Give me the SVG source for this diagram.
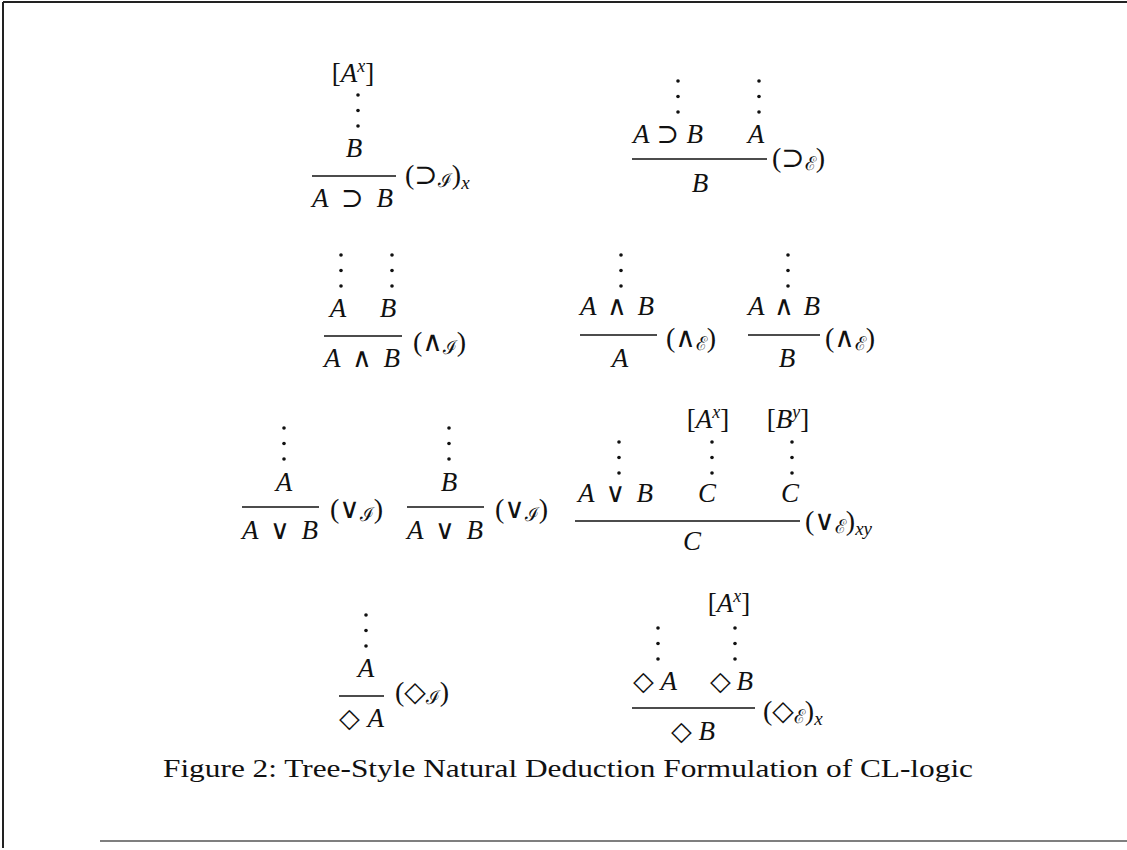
<svg xmlns="http://www.w3.org/2000/svg" width="1127" height="850" viewBox="0 0 1127 850">
<style>
text{font-family:"Liberation Serif","DejaVu Serif",serif;font-size:27px;fill:#111;}
.f{font-style:italic;}
.u{font-style:normal;}
.lab{font-size:28px;}
.cal{font-family:"DejaVu Serif","Liberation Serif",serif;font-style:normal;font-size:19px;}
.sup{font-size:18px;font-style:italic;}
.sub{font-size:19px;font-style:italic;}
.bar{stroke:#111;stroke-width:1.4;fill:none;}
.dot{fill:#111;}
.frame{stroke:#222;stroke-width:2;fill:none;}
.cap{font-size:26px;}
</style>
<defs>
<g id="vd"><circle class="dot" cx="0" cy="0" r="1.8"/><circle class="dot" cx="0" cy="15.5" r="1.8"/><circle class="dot" cx="0" cy="31" r="1.8"/></g>
</defs>
<g id="frame">
<line class="frame" x1="3" y1="2" x2="1127" y2="2"/>
<line class="frame" x1="3" y1="2" x2="3" y2="848"/>
<line x1="100" y1="841" x2="1127" y2="841" stroke="#555" stroke-width="1.5"/>
</g>
<g id="connectors">
<use href="#vd" x="358" y="95"/>
<use href="#vd" x="678" y="81"/>
<use href="#vd" x="759" y="81"/>
<use href="#vd" x="341" y="255"/>
<use href="#vd" x="392" y="255"/>
<use href="#vd" x="621" y="255"/>
<use href="#vd" x="788" y="255"/>
<use href="#vd" x="284" y="428"/>
<use href="#vd" x="449" y="428"/>
<use href="#vd" x="619" y="442"/>
<use href="#vd" x="712" y="442"/>
<use href="#vd" x="792" y="442"/>
<use href="#vd" x="366" y="615"/>
<use href="#vd" x="658" y="628"/>
<use href="#vd" x="735" y="628"/>
</g>
<g id="impI">
<text x="353" y="82" text-anchor="middle"><tspan class="u">[</tspan><tspan class="f">A</tspan><tspan class="sup" dy="-10">x</tspan><tspan class="u" dy="10">]</tspan></text>
<text class="f" x="354" y="157" text-anchor="middle">B</text>
<line class="bar" x1="312" y1="176" x2="396" y2="176"/>
<text class="f" x="312" y="207" textLength="81" lengthAdjust="spacing">A <tspan class="u">⊃</tspan> B</text>
<text class="lab" x="405" y="184"><tspan>(⊃</tspan><tspan class="cal" dy="3">ℐ</tspan><tspan dy="-3">)</tspan><tspan class="sub" dy="5">x</tspan></text>
</g>
<g id="impE">
<text class="f" x="633" y="143" textLength="70" lengthAdjust="spacing">A <tspan class="u">⊃</tspan> B</text>
<text class="f" x="756" y="143" text-anchor="middle">A</text>
<line class="bar" x1="632" y1="159" x2="767" y2="159"/>
<text class="f" x="700" y="192" text-anchor="middle">B</text>
<text class="lab" x="772" y="167"><tspan>(⊃</tspan><tspan class="cal" dy="3">ℰ</tspan><tspan dy="-3">)</tspan></text>
</g>
<g id="andI">
<text class="f" x="338" y="317" text-anchor="middle">A</text>
<text class="f" x="388" y="317" text-anchor="middle">B</text>
<line class="bar" x1="324" y1="336" x2="402" y2="336"/>
<text class="f" x="324" y="367" textLength="76" lengthAdjust="spacing">A <tspan class="u">∧</tspan> B</text>
<text class="lab" x="413" y="351"><tspan>(∧</tspan><tspan class="cal" dy="3">ℐ</tspan><tspan dy="-3">)</tspan></text>
</g>
<g id="andE1">
<text class="f" x="580" y="315" textLength="74" lengthAdjust="spacing">A <tspan class="u">∧</tspan> B</text>
<line class="bar" x1="580" y1="335" x2="657" y2="335"/>
<text class="f" x="620" y="367" text-anchor="middle">A</text>
<text class="lab" x="666" y="347"><tspan>(∧</tspan><tspan class="cal" dy="3">ℰ</tspan><tspan dy="-3">)</tspan></text>
</g>
<g id="andE2">
<text class="f" x="748" y="315" textLength="72" lengthAdjust="spacing">A <tspan class="u">∧</tspan> B</text>
<line class="bar" x1="748" y1="335" x2="820" y2="335"/>
<text class="f" x="787" y="367" text-anchor="middle">B</text>
<text class="lab" x="825" y="347"><tspan>(∧</tspan><tspan class="cal" dy="3">ℰ</tspan><tspan dy="-3">)</tspan></text>
</g>
<g id="orI1">
<text class="f" x="284" y="491" text-anchor="middle">A</text>
<line class="bar" x1="242" y1="507" x2="319" y2="507"/>
<text class="f" x="242" y="539" textLength="76" lengthAdjust="spacing">A <tspan class="u">∨</tspan> B</text>
<text class="lab" x="330" y="518"><tspan>(∨</tspan><tspan class="cal" dy="3">ℐ</tspan><tspan dy="-3">)</tspan></text>
</g>
<g id="orI2">
<text class="f" x="449" y="491" text-anchor="middle">B</text>
<line class="bar" x1="407" y1="507" x2="484" y2="507"/>
<text class="f" x="407" y="539" textLength="76" lengthAdjust="spacing">A <tspan class="u">∨</tspan> B</text>
<text class="lab" x="495" y="518"><tspan>(∨</tspan><tspan class="cal" dy="3">ℐ</tspan><tspan dy="-3">)</tspan></text>
</g>
<g id="orE">
<text x="708" y="428" text-anchor="middle"><tspan class="u">[</tspan><tspan class="f">A</tspan><tspan class="sup" dy="-10">x</tspan><tspan class="u" dy="10">]</tspan></text>
<text x="788" y="428" text-anchor="middle"><tspan class="u">[</tspan><tspan class="f">B</tspan><tspan class="sup" dy="-10">y</tspan><tspan class="u" dy="10">]</tspan></text>
<text class="f" x="578" y="502" textLength="75" lengthAdjust="spacing">A <tspan class="u">∨</tspan> B</text>
<text class="f" x="707" y="502" text-anchor="middle">C</text>
<text class="f" x="790" y="502" text-anchor="middle">C</text>
<line class="bar" x1="575" y1="521" x2="800" y2="521"/>
<text class="f" x="692" y="550" text-anchor="middle">C</text>
<text class="lab" x="805" y="530"><tspan>(∨</tspan><tspan class="cal" dy="3">ℰ</tspan><tspan dy="-3">)</tspan><tspan class="sub" dy="5">xy</tspan></text>
</g>
<g id="diaI">
<text class="f" x="366" y="677" text-anchor="middle">A</text>
<line class="bar" x1="339" y1="696" x2="384" y2="696"/>
<text x="339" y="727" textLength="45" lengthAdjust="spacing"><tspan class="u">◇</tspan><tspan class="f">A</tspan></text>
<text class="lab" x="395" y="701"><tspan>(◇</tspan><tspan class="cal" dy="3">ℐ</tspan><tspan dy="-3">)</tspan></text>
</g>
<g id="diaE">
<text x="729" y="612" text-anchor="middle"><tspan class="u">[</tspan><tspan class="f">A</tspan><tspan class="sup" dy="-10">x</tspan><tspan class="u" dy="10">]</tspan></text>
<text x="633" y="690" textLength="44" lengthAdjust="spacing"><tspan class="u">◇</tspan><tspan class="f">A</tspan></text>
<text x="710" y="690" textLength="43" lengthAdjust="spacing"><tspan class="u">◇</tspan><tspan class="f">B</tspan></text>
<line class="bar" x1="632" y1="708" x2="755" y2="708"/>
<text x="671" y="740" textLength="44" lengthAdjust="spacing"><tspan class="u">◇</tspan><tspan class="f">B</tspan></text>
<text class="lab" x="763" y="720"><tspan>(◇</tspan><tspan class="cal" dy="3">ℰ</tspan><tspan dy="-3">)</tspan><tspan class="sub" dy="5">x</tspan></text>
</g>
<g id="caption">
<text class="cap" x="163" y="777" textLength="810" lengthAdjust="spacingAndGlyphs">Figure 2: Tree-Style Natural Deduction Formulation of CL-logic</text>
</g>
</svg>
